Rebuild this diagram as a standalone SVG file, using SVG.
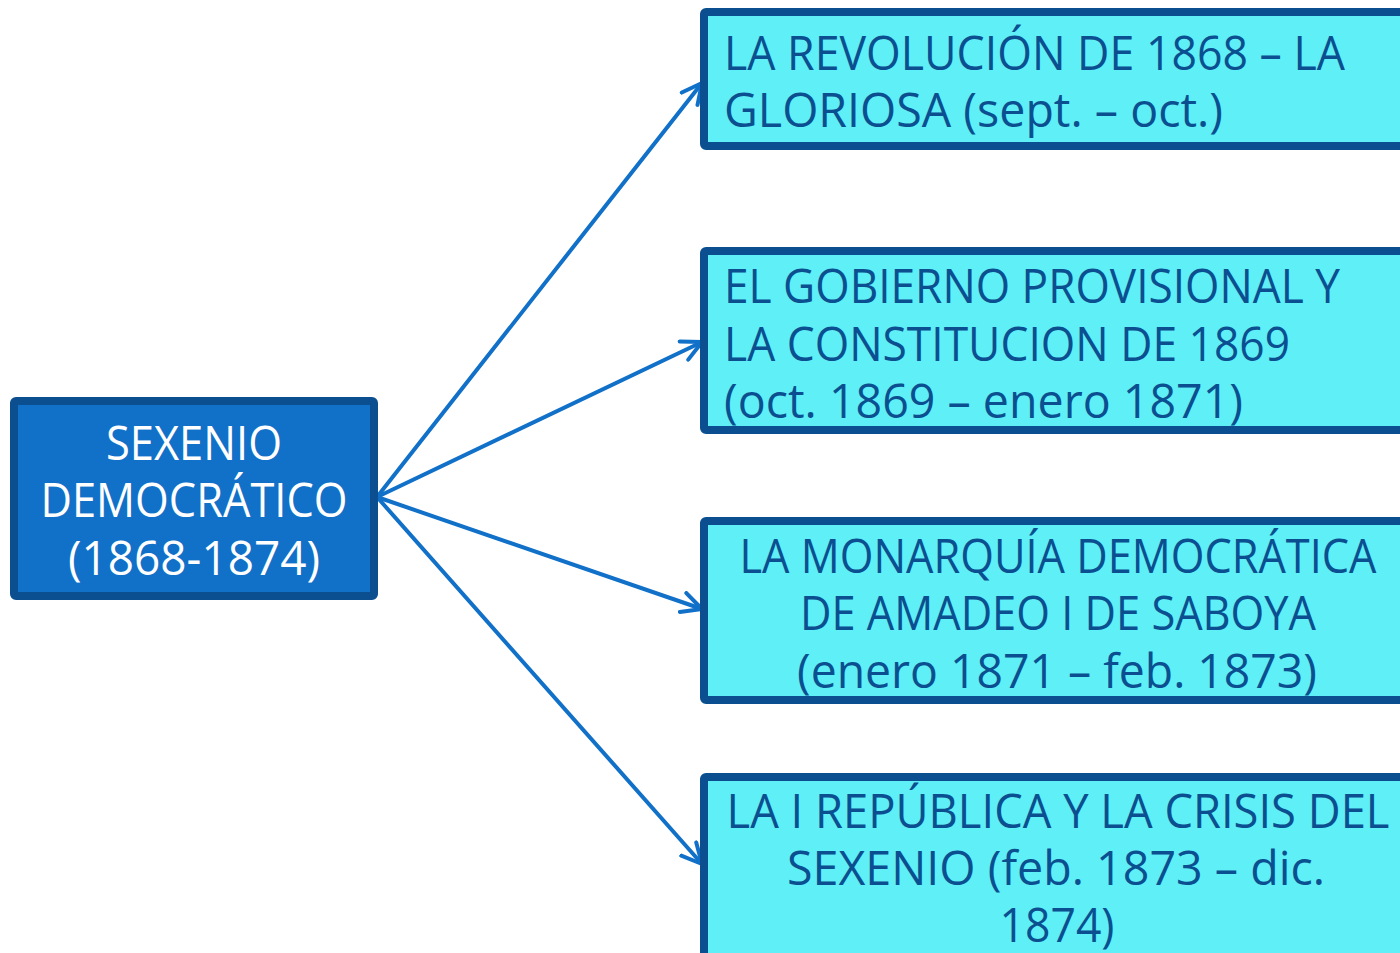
<svg xmlns="http://www.w3.org/2000/svg" width="1400" height="953" viewBox="0 0 1400 953">
<style>
.main{fill:#1170C8;stroke:#0B4F91;stroke-width:8}
.box{fill:#5EF0F6;stroke:#0B4F91;stroke-width:8}
.t{font-family:"Open Sans","DejaVu Sans",sans-serif;font-size:47px;fill:#0B4F91}
.w{font-family:"Open Sans","DejaVu Sans",sans-serif;font-size:47px;fill:#FFFFFF;text-anchor:middle}
.c{text-anchor:middle}
.conn{stroke:#1170C8;stroke-width:4;fill:none;stroke-linecap:round}
</style>
<defs>
<marker id="ah" viewBox="0 0 12 12" refX="11" refY="6" markerWidth="6" markerHeight="6" markerUnits="strokeWidth" orient="auto">
<path d="M1,1 L11,6 L1,11" fill="none" stroke="#1170C8" stroke-width="2" stroke-linecap="round" stroke-linejoin="round"/>
</marker>
</defs>
<rect width="1400" height="953" fill="#FFFFFF"/>
<g id="connectors">
<line class="conn" x1="377" y1="497" x2="702" y2="83" marker-end="url(#ah)"/>
<line class="conn" x1="377" y1="497" x2="702" y2="342" marker-end="url(#ah)"/>
<line class="conn" x1="377" y1="497" x2="702" y2="609" marker-end="url(#ah)"/>
<line class="conn" x1="377" y1="497" x2="702" y2="864" marker-end="url(#ah)"/>
</g>
<g id="node-sexenio">
<rect class="main" x="14" y="401" width="360" height="195" rx="2"/>
<text class="w" x="194" y="460" textLength="176" lengthAdjust="spacingAndGlyphs">SEXENIO</text>
<text class="w" x="194" y="517" textLength="307" lengthAdjust="spacingAndGlyphs">DEMOCRÁTICO</text>
<text class="w" x="194" y="575" textLength="252" lengthAdjust="spacingAndGlyphs">(1868-1874)</text>
</g>
<g id="node-revolucion">
<rect class="box" x="704" y="12" width="710" height="134" rx="2"/>
<text class="t" x="724" y="70" textLength="621" lengthAdjust="spacingAndGlyphs">LA REVOLUCIÓN DE 1868 – LA</text>
<text class="t" x="724" y="127" textLength="499" lengthAdjust="spacingAndGlyphs">GLORIOSA (sept. – oct.)</text>
</g>
<g id="node-gobierno">
<rect class="box" x="704" y="251" width="710" height="179" rx="2"/>
<text class="t" x="724" y="303" textLength="616" lengthAdjust="spacingAndGlyphs">EL GOBIERNO PROVISIONAL Y</text>
<text class="t" x="724" y="361" textLength="566" lengthAdjust="spacingAndGlyphs">LA CONSTITUCION DE 1869</text>
<text class="t" x="724" y="418" textLength="519" lengthAdjust="spacingAndGlyphs">(oct. 1869 – enero 1871)</text>
</g>
<g id="node-monarquia">
<rect class="box" x="704" y="521" width="710" height="179" rx="2"/>
<text class="t c" x="1058" y="573" textLength="637" lengthAdjust="spacingAndGlyphs">LA MONARQUÍA DEMOCRÁTICA</text>
<text class="t c" x="1058" y="630" textLength="516" lengthAdjust="spacingAndGlyphs">DE AMADEO I DE SABOYA</text>
<text class="t c" x="1057" y="688" textLength="520" lengthAdjust="spacingAndGlyphs">(enero 1871 – feb. 1873)</text>
</g>
<g id="node-republica">
<rect class="box" x="704" y="777" width="710" height="190" rx="2"/>
<text class="t c" x="1058" y="828" textLength="663" lengthAdjust="spacingAndGlyphs">LA I REPÚBLICA Y LA CRISIS DEL</text>
<text class="t c" x="1056" y="885" textLength="538" lengthAdjust="spacingAndGlyphs">SEXENIO (feb. 1873 – dic.</text>
<text class="t c" x="1057" y="942" textLength="115" lengthAdjust="spacingAndGlyphs">1874)</text>
</g>
</svg>
